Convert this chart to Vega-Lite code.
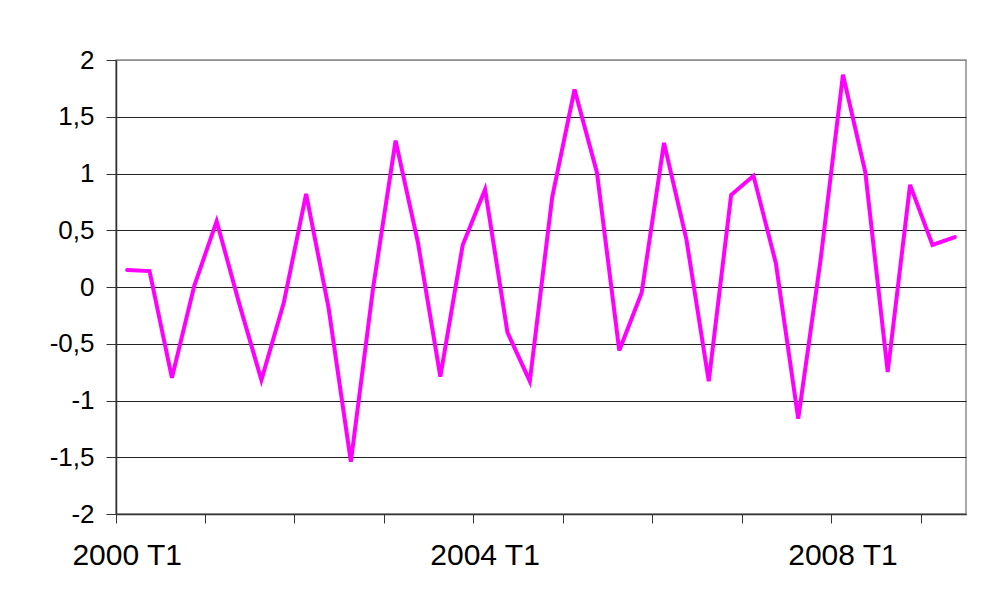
{
  "$schema": "https://vega.github.io/schema/vega-lite/v6.json",
  "autosize": {"type": "none"},
  "padding": {"left": 116, "top": 60, "right": 18, "bottom": 77},
  "width": 850,
  "height": 454,
  "background": "white",
  "config": {
    "view": {"stroke": "#8c8c8c", "strokeWidth": 1.5},
    "font": "Liberation Sans"
  },
  "data": {
    "values": [
      {"q": "2000 T1", "v": 0.15},
      {"q": "2000 T2", "v": 0.14},
      {"q": "2000 T3", "v": -0.8},
      {"q": "2000 T4", "v": 0.01},
      {"q": "2001 T1", "v": 0.58},
      {"q": "2001 T2", "v": -0.14},
      {"q": "2001 T3", "v": -0.82},
      {"q": "2001 T4", "v": -0.14},
      {"q": "2002 T1", "v": 0.82},
      {"q": "2002 T2", "v": -0.18},
      {"q": "2002 T3", "v": -1.54},
      {"q": "2002 T4", "v": 0.0},
      {"q": "2003 T1", "v": 1.29},
      {"q": "2003 T2", "v": 0.39},
      {"q": "2003 T3", "v": -0.79},
      {"q": "2003 T4", "v": 0.37},
      {"q": "2004 T1", "v": 0.86},
      {"q": "2004 T2", "v": -0.4},
      {"q": "2004 T3", "v": -0.83},
      {"q": "2004 T4", "v": 0.79},
      {"q": "2005 T1", "v": 1.74},
      {"q": "2005 T2", "v": 1.01},
      {"q": "2005 T3", "v": -0.56},
      {"q": "2005 T4", "v": -0.05},
      {"q": "2006 T1", "v": 1.27},
      {"q": "2006 T2", "v": 0.42},
      {"q": "2006 T3", "v": -0.83},
      {"q": "2006 T4", "v": 0.81},
      {"q": "2007 T1", "v": 0.98},
      {"q": "2007 T2", "v": 0.21},
      {"q": "2007 T3", "v": -1.16},
      {"q": "2007 T4", "v": 0.24},
      {"q": "2008 T1", "v": 1.87},
      {"q": "2008 T2", "v": 1.01},
      {"q": "2008 T3", "v": -0.75},
      {"q": "2008 T4", "v": 0.9},
      {"q": "2009 T1", "v": 0.37},
      {"q": "2009 T2", "v": 0.44}
    ]
  },
  "mark": {"type": "line", "color": "#ff00ff", "strokeWidth": 4, "strokeJoin": "miter", "strokeCap": "round"},
  "encoding": {
    "x": {
      "field": "q",
      "type": "ordinal",
      "sort": null,
      "scale": {"type": "band", "paddingInner": 0, "paddingOuter": 0},
      "axis": {
        "title": null,
        "values": ["2000 T1", "2001 T1", "2002 T1", "2003 T1", "2004 T1", "2005 T1", "2006 T1", "2007 T1", "2008 T1", "2009 T1"],
        "bandPosition": 0,
        "labelExpr": "datum.value == '2000 T1' || datum.value == '2004 T1' || datum.value == '2008 T1' ? datum.value : ''",
        "labelDx": 11,
        "labelAngle": 0,
        "labelAlign": "center",
        "labelBaseline": "top",
        "labelOverlap": false,
        "labelFontSize": 30,
        "labelColor": "#000",
        "labelPadding": 17,
        "tickSize": 9,
        "tickColor": "#333",
        "domainColor": "#333",
        "domainWidth": 1.5,
        "grid": false
      }
    },
    "y": {
      "field": "v",
      "type": "quantitative",
      "scale": {"domain": [-2, 2], "nice": false, "zero": false},
      "axis": {
        "title": null,
        "values": [-2, -1.5, -1, -0.5, 0, 0.5, 1, 1.5, 2],
        "labelExpr": "replace(replace(format(datum.value, '.1~f'), '.', ','), '\u2212', '-')",
        "labelFontSize": 26,
        "labelColor": "#000",
        "labelPadding": 12,
        "labelBaseline": "middle",
        "tickSize": 10,
        "tickColor": "#333",
        "domainColor": "#333",
        "domainWidth": 1.5,
        "grid": true,
        "gridColor": {"condition": {"test": "datum.value === 2", "value": "#8c8c8c"}, "value": "#222"},
        "gridWidth": 1
      }
    }
  }
}
